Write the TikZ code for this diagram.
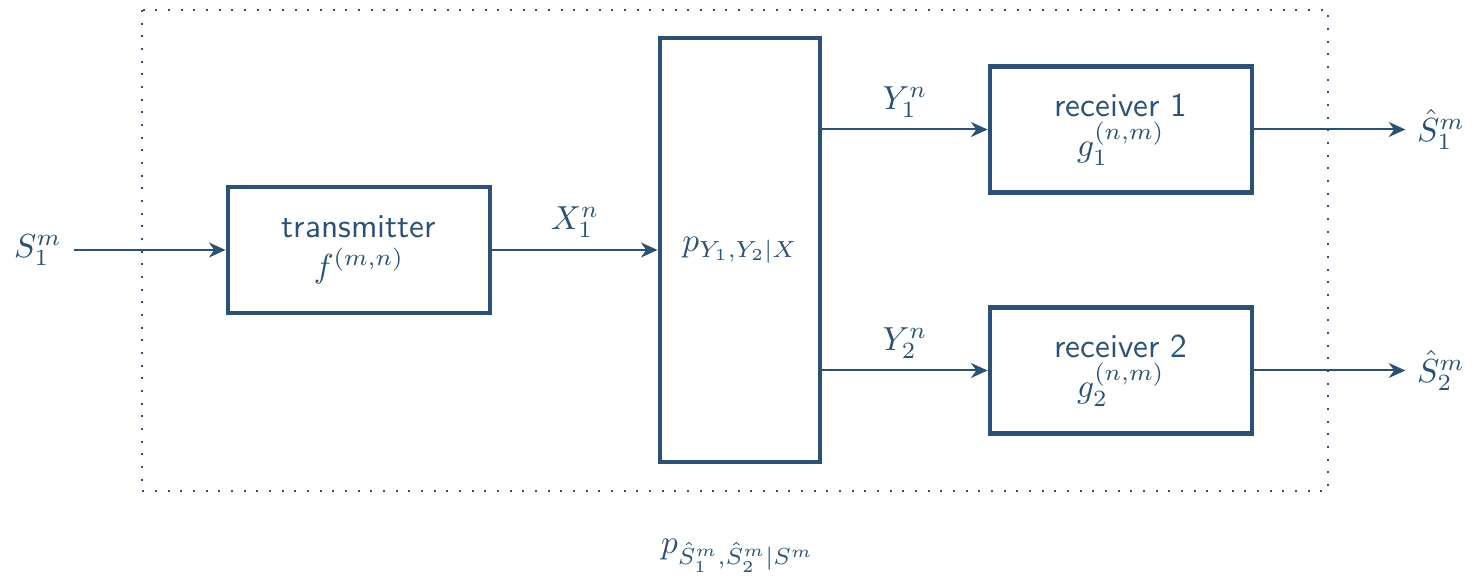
\documentclass[tikz,border=0pt]{standalone}
\usetikzlibrary{arrows.meta}
\definecolor{dblue}{RGB}{44,81,115}
\begin{document}
\begin{tikzpicture}[x=0.3pt,y=-0.3pt,
  box/.style={draw=dblue, line width=1.25pt, align=center, font=\sffamily, text=dblue, inner sep=0pt},
  wbox/.style={box, minimum width=78.8pt, minimum height=37.8pt},
  conn/.style={draw=dblue, line width=0.6pt, -{Stealth[length=5pt,width=4.5pt]}},
  lbl/.style={text=dblue},
  frame/.style={draw=dblue, line width=0.6pt, dash pattern=on 0.6pt off 3.2pt}]
\useasboundingbox (0,0) rectangle (1480,580);
\draw[frame] (142,10) rectangle (1328,491);
\node[wbox] (tx) at (359,250) {transmitter\\$f^{(m,n)}$};
\node[box, minimum width=48.2pt, minimum height=127pt] (ch) at (740,250) {$p_{Y_1,Y_2|X}$};
\node[wbox] (rx1) at (1121,129.5) {receiver 1\\$g_1^{(n,m)}$};
\node[wbox] (rx2) at (1121,370.5) {receiver 2\\$g_2^{(n,m)}$};
\node[lbl] (s) at (38,250) {$S_1^m$};
\node[lbl] (sh1) at (1441,129.5) {$\hat S_1^m$};
\node[lbl] (sh2) at (1441,370.5) {$\hat S_2^m$};
\node[lbl] (pout) at (738,556) {$p_{\hat S_1^m,\hat S_2^m|S^m}$};
\draw[conn] (s) -- (tx);
\draw[conn] (tx) -- node[midway, above, lbl] {$X_1^n$} (ch);
\draw[conn] (ch.east |- rx1.west) -- node[midway, above, lbl] {$Y_1^n$} (rx1.west);
\draw[conn] (ch.east |- rx2.west) -- node[midway, above, lbl] {$Y_2^n$} (rx2.west);
\draw[conn] (rx1) -- (sh1);
\draw[conn] (rx2) -- (sh2);
\end{tikzpicture}
\end{document}
